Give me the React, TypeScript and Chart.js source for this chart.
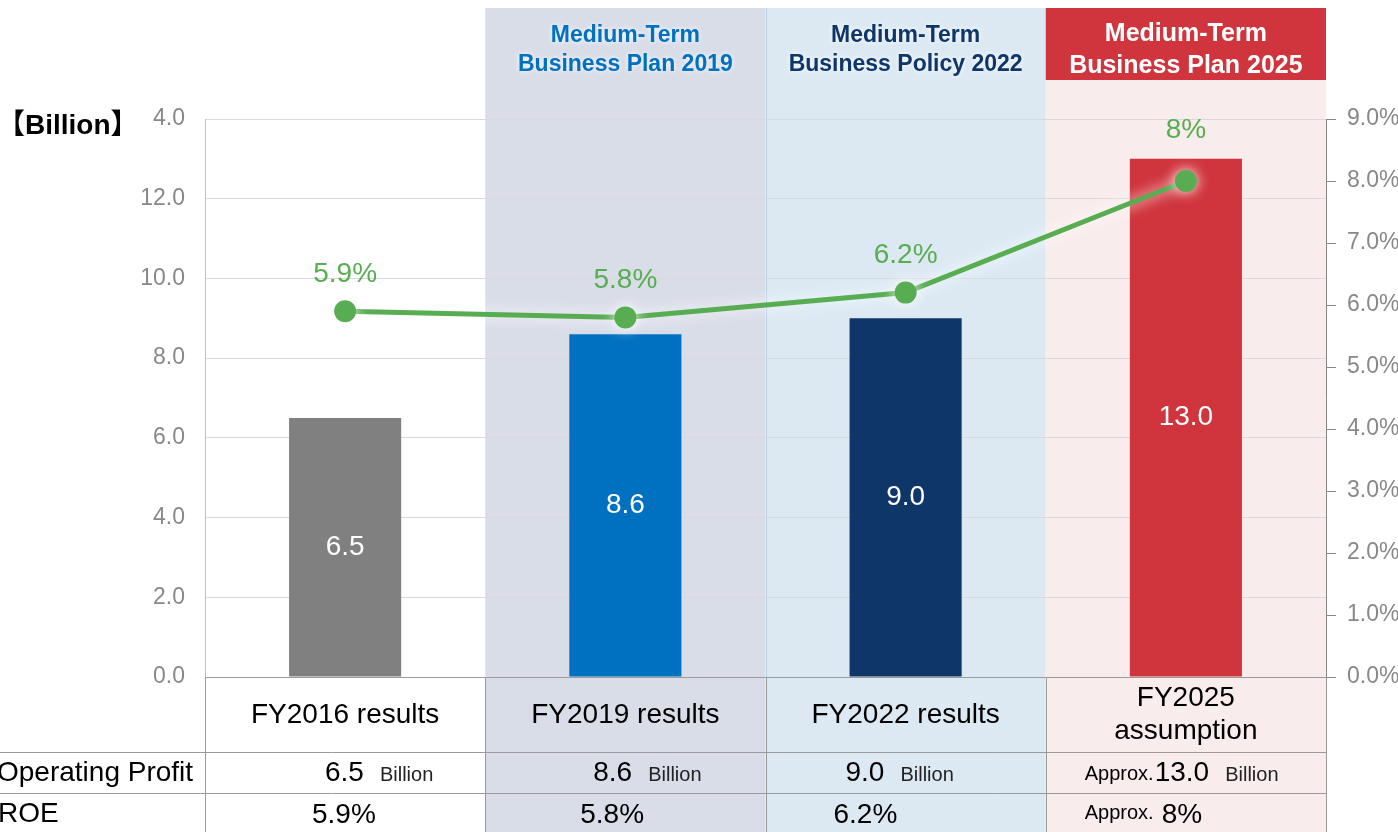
import React, { useEffect, useRef } from "react";
import { Chart, registerables } from "chart.js";

Chart.register(...registerables);

const categories = ["FY2016 results", "FY2019 results", "FY2022 results", "FY2025 assumption"];
const categoryLabelLines = [["FY2016 results"], ["FY2019 results"], ["FY2022 results"], ["FY2025", "assumption"]];
const operatingProfit = [6.5, 8.6, 9.0, 13.0];
const roe = [5.9, 5.8, 6.2, 8.0];
const roeLabels = ["5.9%", "5.8%", "6.2%", "8%"];
const approxFlags = [false, false, false, true];
const leftTickLabels = ["0.0", "2.0", "4.0", "6.0", "8.0", "10.0", "12.0", "4.0"];
const planHeaders = [
  ["Medium-Term", "Business Plan 2019"],
  ["Medium-Term", "Business Policy 2022"],
  ["Medium-Term", "Business Plan 2025"],
];
const rowNames = ["Operating Profit", "ROE"];
const unitLabel = "【Billion】";
const unitWord = "Billion";
const approxWord = "Approx.";

const FONT = "'Liberation Sans', Arial, 'Noto Sans CJK JP', sans-serif";
const barColors = ["#808080", "#0070c0", "#0e3669", "#d0343c"];
const GREEN = "#58ad52";

const overlayPlugin = {
  id: "overlay",
  beforeDraw(chart: any) {
    const ctx = chart.ctx;
    const a = chart.chartArea;
    const w = (a.right - a.left) / 4;
    const b = [0, 1, 2, 3, 4].map((i) => a.left + i * w);
    const H = chart.height;
    ctx.save();
    ctx.fillStyle = "#ffffff";
    ctx.fillRect(0, 0, chart.width, H);
    ctx.fillStyle = "#d9dde8";
    ctx.fillRect(b[1], 8, w, H - 8);
    ctx.fillStyle = "#dce9f3";
    ctx.fillRect(b[2], 8, w, H - 8);
    ctx.fillStyle = "#f9ecec";
    ctx.fillRect(b[3], 80, w, H - 80);
    ctx.fillStyle = "#d0343c";
    ctx.fillRect(b[3], 8, w, 72);
    ctx.strokeStyle = "#b7cde3";
    ctx.lineWidth = 1;
    ctx.beginPath();
    ctx.moveTo(Math.round(b[2]) + 0.5, 8);
    ctx.lineTo(Math.round(b[2]) + 0.5, a.bottom);
    ctx.stroke();

    ctx.textAlign = "center";
    ctx.textBaseline = "middle";
    const headerColors = ["#0070c0", "#0e3669", "#ffffff"];
    planHeaders.forEach((lines, i) => {
      const cx = (b[i + 1] + b[i + 2]) / 2;
      const big = i === 2;
      ctx.font = `bold ${big ? 25 : 23}px ${FONT}`;
      ctx.fillStyle = headerColors[i];
      if (!big) {
        ctx.shadowColor = "rgba(255,255,255,1)";
        ctx.shadowBlur = 5;
      } else {
        ctx.shadowBlur = 0;
      }
      ctx.fillText(lines[0], cx, big ? 34 : 36);
      ctx.fillText(lines[1], cx, big ? 66 : 65);
    });
    ctx.shadowBlur = 0;

    ctx.fillStyle = "#000000";
    ctx.font = `bold 28px ${FONT}`;
    ctx.textAlign = "left";
    ctx.fillText(unitLabel, -3, 126);
    ctx.restore();
  },
  beforeDatasetDraw(chart: any, args: any) {
    if (args.index === 0) {
      const ctx = chart.ctx;
      ctx.save();
      ctx.shadowColor = "rgba(255,255,255,1)";
      ctx.shadowBlur = 14;
    }
  },
  afterDatasetDraw(chart: any, args: any) {
    if (args.index === 0) chart.ctx.restore();
  },
  afterDatasetsDraw(chart: any) {
    const ctx = chart.ctx;
    ctx.save();
    ctx.textAlign = "center";
    ctx.textBaseline = "middle";
    const barMeta = chart.getDatasetMeta(1);
    ctx.fillStyle = "#ffffff";
    ctx.font = `28px ${FONT}`;
    barMeta.data.forEach((el: any, i: number) => {
      const cy = (el.y + el.base) / 2;
      ctx.fillText(operatingProfit[i].toFixed(1), el.x, cy);
    });
    const lineMeta = chart.getDatasetMeta(0);
    ctx.fillStyle = GREEN;
    lineMeta.data.forEach((el: any, i: number) => {
      const off = i === 3 ? 51 : 37;
      ctx.fillText(roeLabels[i], el.x, el.y - off);
    });
    ctx.restore();
  },
  afterDraw(chart: any) {
    const ctx = chart.ctx;
    const a = chart.chartArea;
    const w = (a.right - a.left) / 4;
    const b = [0, 1, 2, 3, 4].map((i) => a.left + i * w);
    const H = chart.height;
    const r1 = 752.5;
    const r2 = 793.5;
    ctx.save();
    ctx.strokeStyle = "#9a9a9a";
    ctx.lineWidth = 1;
    ctx.beginPath();
    ctx.moveTo(a.left, Math.round(a.bottom) + 0.5);
    ctx.lineTo(a.right, Math.round(a.bottom) + 0.5);
    ctx.moveTo(0, r1);
    ctx.lineTo(a.right, r1);
    ctx.moveTo(0, r2);
    ctx.lineTo(a.right, r2);
    b.forEach((x) => {
      ctx.moveTo(Math.round(x) + 0.5, a.bottom);
      ctx.lineTo(Math.round(x) + 0.5, H);
    });
    ctx.stroke();

    ctx.fillStyle = "#000000";
    ctx.textBaseline = "middle";
    ctx.textAlign = "center";
    ctx.font = `28px ${FONT}`;
    categoryLabelLines.forEach((lines, i) => {
      const cx = (b[i] + b[i + 1]) / 2;
      if (lines.length === 1) {
        ctx.fillText(lines[0], cx, 715);
      } else {
        ctx.fillText(lines[0], cx, 698);
        ctx.fillText(lines[1], cx, 731);
      }
    });
    ctx.textAlign = "left";
    ctx.fillText(rowNames[0], -3, 773);
    ctx.fillText(rowNames[1], -2, 814);

    const opStart = [120, 108, 80, 39];
    const roeStart = [107, 95, 68, 39];
    categories.forEach((_, i) => {
      let x = b[i] + opStart[i];
      if (approxFlags[i]) {
        ctx.font = `20px ${FONT}`;
        ctx.fillText(approxWord, x, 774);
        x += ctx.measureText(approxWord).width + 1;
      }
      ctx.font = `28px ${FONT}`;
      const v = operatingProfit[i].toFixed(1);
      ctx.fillText(v, x, 773);
      x += ctx.measureText(v).width + 16;
      ctx.font = `20px ${FONT}`;
      ctx.fillStyle = "#222222";
      ctx.fillText(unitWord, x, 775);
      ctx.fillStyle = "#000000";

      let xr = b[i] + roeStart[i];
      if (approxFlags[i]) {
        ctx.font = `20px ${FONT}`;
        ctx.fillText(approxWord, xr, 813);
        xr += ctx.measureText(approxWord).width + 8;
      }
      ctx.font = `28px ${FONT}`;
      ctx.fillText(roeLabels[i], xr, 815);
    });
    ctx.restore();
  },
};

export default function App() {
  const ref = useRef<HTMLCanvasElement>(null);
  useEffect(() => {
    if (!ref.current) return;
    Chart.defaults.font.family = FONT;
    const chart = new Chart(ref.current, {
      type: "bar",
      data: {
        labels: categories,
        datasets: [
          {
            type: "line",
            data: roe,
            yAxisID: "y1",
            borderColor: GREEN,
            borderWidth: 5,
            backgroundColor: GREEN,
            pointRadius: 11,
            pointBackgroundColor: GREEN,
            pointBorderWidth: 0,
            order: 0,
          } as any,
          {
            type: "bar",
            data: operatingProfit,
            yAxisID: "y",
            backgroundColor: barColors,
            barPercentage: 0.4,
            categoryPercentage: 1,
            order: 1,
          },
        ],
      },
      options: {
        responsive: false,
        animation: false,
        layout: { padding: { top: 119, bottom: 155, left: 0, right: 0 } },
        plugins: { legend: { display: false }, tooltip: { enabled: false } },
        scales: {
          x: { display: false },
          y: {
            position: "left",
            min: 0,
            max: 14,
            afterFit: (s: any) => {
              s.width = 205;
            },
            ticks: {
              stepSize: 2,
              color: "#888888",
              font: { size: 23 },
              padding: 20,
              callback: (v: any) => leftTickLabels[Math.round(Number(v) / 2)],
            },
            grid: { color: "#d9d9d9", drawTicks: false },
            border: { color: "#bfbfbf" },
          },
          y1: {
            position: "right",
            min: 0,
            max: 9,
            afterFit: (s: any) => {
              s.width = 72;
            },
            ticks: {
              stepSize: 1,
              color: "#888888",
              font: { size: 23 },
              padding: 11,
              callback: (v: any) => Number(v).toFixed(1) + "%",
            },
            grid: { drawOnChartArea: false, color: "#888888", tickLength: 10 },
            border: { color: "#888888" },
          },
        },
      },
      plugins: [overlayPlugin],
    });
    return () => chart.destroy();
  }, []);
  return (
    <div style={{ position: "fixed", left: 0, top: 0, width: 1398, height: 832 }}>
      <canvas ref={ref} width={1398} height={832} style={{ display: "block" }} />
    </div>
  );
}
